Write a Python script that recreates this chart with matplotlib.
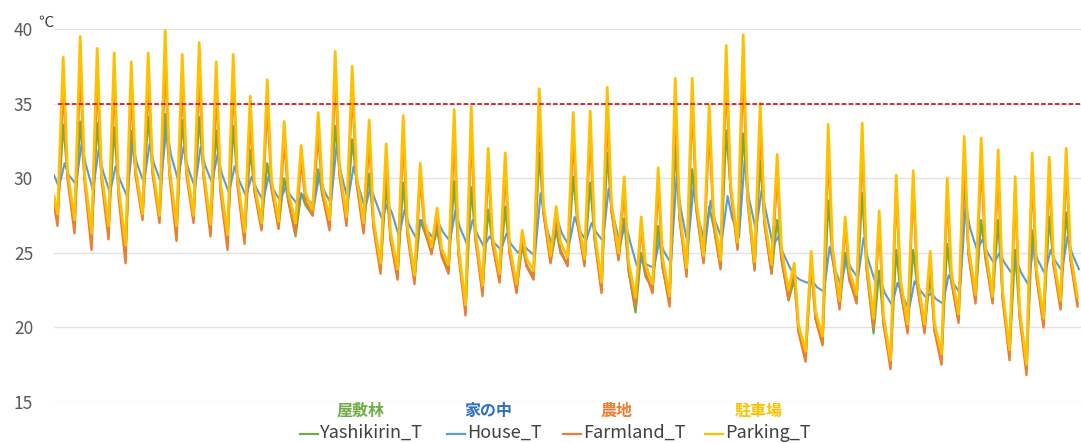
import matplotlib
matplotlib.use("Agg")
import matplotlib.pyplot as plt
from matplotlib.lines import Line2D

plt.rcParams['font.family'] = ['Noto Sans CJK JP', 'DejaVu Sans']

GREEN = '#70ad47'
BLUE = '#5b9bd5'
ORANGE = '#ed7d31'
GOLD = '#ffc000'

# reading hours within a day: morning low, afternoon high, evening
OUT_HOURS = (5, 13, 19)
IN_HOURS = (7, 15, 21)

names = ['Yashikirin_T', 'House_T', 'Farmland_T', 'Parking_T']
names_jp = ['屋敷林', '家の中', '農地', '駐車場']

# values at 0:00 of the first day
first_vals = [28.3, 30.2, 28.2, 28.8]

# --- Parking (駐車場) ---
parking_min = [27.6, 27.2, 26.3, 26.8, 25.5, 27.6, 27.5, 26.8, 27.5, 26.9,
               26.2, 26.4, 27.0, 27.1, 27.0, 27.9, 27.2, 27.4, 27.0, 24.3,
               23.9, 23.5, 25.4, 24.2, 21.5, 22.8, 23.6, 22.9, 23.8, 24.8,
               24.7, 24.6, 23.0, 25.0, 22.0, 22.9, 22.1, 24.0, 24.8, 24.5,
               25.7, 24.4, 24.2, 22.5, 18.4, 19.4, 21.8, 22.2, 20.6, 17.8,
               20.2, 20.2, 18.2, 20.9, 22.2, 22.1, 18.5, 17.5, 20.6, 21.8, 22.0]
parking_max = [38.1, 39.5, 38.7, 38.4, 37.8, 38.4, 39.9, 38.3, 39.1, 37.8,
               38.3, 35.5, 36.6, 33.8, 32.2, 34.4, 38.5, 37.5, 33.9, 32.3,
               34.2, 31.0, 28.0, 34.6, 34.8, 32.0, 31.7, 26.5, 36.0, 28.1,
               34.4, 34.5, 36.1, 30.1, 27.4, 30.7, 36.7, 36.7, 34.9, 38.9,
               39.6, 35.0, 31.6, 24.3, 25.1, 33.6, 27.4, 33.7, 27.8, 30.2,
               30.5, 25.1, 30.0, 32.8, 32.7, 31.9, 30.1, 31.7, 31.4, 32.0]
parking_eve = [30.5, 30.3, 30.4, 29.4, 30.7, 30.8, 30.7, 30.7, 30.6, 29.7,
               30.0, 29.6, 29.9, 29.0, 29.0, 29.4, 30.7, 30.2, 27.2, 26.4,
               26.7, 27.1, 25.3, 25.4, 26.4, 26.1, 25.5, 24.6, 28.2, 25.7,
               27.5, 26.5, 28.3, 24.4, 24.2, 24.7, 27.8, 28.4, 27.6, 29.7,
               29.0, 27.4, 25.2, 20.2, 21.1, 25.3, 23.8, 24.5, 20.8, 23.2,
               23.3, 20.3, 23.6, 25.4, 25.3, 22.5, 21.3, 23.9, 24.7, 25.0]

# --- Farmland (農地) ---
farm_min = [26.8, 26.3, 25.2, 25.9, 24.3, 27.2, 27.0, 25.8, 27.0, 26.1,
            25.2, 25.6, 26.5, 26.6, 26.3, 27.5, 26.5, 26.8, 26.3, 23.6,
            23.2, 22.9, 24.9, 23.6, 20.8, 22.1, 23.0, 22.3, 23.2, 24.3,
            24.1, 24.1, 22.3, 24.5, 21.4, 22.3, 21.4, 23.4, 24.3, 23.9,
            25.2, 23.9, 23.6, 21.9, 17.7, 18.8, 21.2, 21.6, 20.0, 17.2,
            19.6, 19.6, 17.5, 20.3, 21.6, 21.6, 17.8, 16.8, 20.0, 21.2, 21.4]
farm_max = [36.2, 37.4, 36.8, 36.5, 36.0, 36.5, 37.8, 36.4, 37.0, 36.0,
            36.6, 34.0, 35.0, 32.6, 31.2, 33.0, 36.8, 36.0, 32.6, 31.4,
            32.8, 30.0, 27.4, 33.0, 33.2, 30.8, 30.5, 26.0, 34.2, 27.5,
            32.8, 33.0, 34.3, 29.2, 26.8, 29.6, 34.9, 35.0, 33.4, 36.8,
            37.2, 33.5, 30.4, 24.0, 24.6, 32.0, 26.8, 32.2, 27.0, 29.2,
            29.4, 24.6, 29.0, 31.4, 31.2, 30.6, 29.2, 30.4, 30.2, 30.8]
farm_eve = [30.0, 29.8, 29.9, 28.8, 30.2, 30.3, 30.2, 30.2, 30.1, 29.1,
            29.5, 29.1, 29.4, 28.5, 28.5, 28.9, 30.2, 29.7, 26.7, 25.9,
            26.2, 26.6, 24.8, 24.9, 25.9, 25.6, 25.0, 24.1, 27.7, 25.2,
            27.0, 26.0, 27.8, 23.9, 23.7, 24.2, 27.3, 27.9, 27.1, 29.2,
            28.5, 26.9, 24.7, 19.7, 20.6, 24.8, 23.3, 24.0, 20.3, 22.7,
            22.8, 19.8, 23.1, 24.9, 24.8, 22.0, 20.8, 23.4, 24.2, 24.5]

# --- Yashikirin (屋敷林) ---
yashi_min = [27.3, 27.0, 26.0, 26.6, 25.3, 27.5, 27.3, 26.6, 27.4, 26.7,
             26.0, 26.1, 26.7, 26.7, 26.1, 27.5, 26.9, 27.1, 26.6, 23.9,
             23.4, 23.2, 25.1, 23.8, 21.2, 22.5, 23.2, 22.5, 23.4, 24.4,
             24.2, 24.3, 22.5, 24.6, 21.0, 22.6, 21.7, 23.6, 24.4, 24.0,
             25.3, 23.8, 23.6, 21.8, 18.1, 18.9, 21.3, 21.8, 19.6, 17.6,
             19.8, 19.9, 17.9, 20.5, 21.8, 21.8, 18.2, 17.2, 20.2, 21.4, 21.6]
yashi_max = [33.6, 33.8, 33.7, 33.4, 33.2, 34.1, 34.3, 33.9, 34.1, 33.2,
             33.5, 31.9, 31.0, 30.0, 29.0, 30.6, 33.5, 32.6, 30.3, 29.6,
             29.7, 27.2, 26.5, 29.8, 29.4, 27.9, 28.1, 25.5, 31.7, 26.5,
             30.1, 29.7, 31.7, 27.3, 25.0, 26.8, 32.2, 30.6, 28.1, 33.2,
             33.0, 31.2, 27.2, 23.2, 24.0, 28.5, 25.0, 29.0, 23.8, 25.2,
             25.2, 23.5, 25.6, 30.1, 27.2, 27.2, 25.2, 26.5, 27.4, 27.7]
yashi_eve = [30.3, 30.1, 30.2, 29.2, 30.5, 30.6, 30.5, 30.5, 30.4, 29.5,
             29.8, 29.2, 29.3, 28.4, 28.2, 28.8, 30.4, 29.8, 26.8, 26.0,
             26.3, 26.4, 24.9, 25.0, 25.9, 25.6, 25.1, 24.2, 27.7, 25.0,
             27.0, 26.0, 27.8, 23.8, 23.4, 24.0, 27.4, 27.8, 26.8, 29.4,
             28.8, 27.0, 24.5, 19.8, 20.6, 24.8, 23.1, 24.0, 20.2, 22.4,
             22.6, 19.8, 23.0, 25.0, 24.6, 22.1, 20.8, 23.4, 24.3, 24.6]

# --- House (家の中) ---
house_min = [29.4, 29.6, 29.2, 29.0, 28.8, 29.7, 29.7, 29.9, 29.4, 29.7,
             29.0, 28.8, 28.5, 28.5, 28.3, 28.2, 28.3, 28.5, 28.0, 27.3,
             26.1, 26.0, 26.0, 25.8, 25.6, 25.4, 25.2, 25.0, 24.8, 25.5,
             25.5, 25.8, 25.8, 25.6, 24.1, 24.0, 24.3, 25.5, 25.6, 25.9,
             26.0, 26.5, 25.5, 24.0, 23.0, 22.4, 22.8, 23.3, 23.1, 21.5,
             21.2, 22.0, 21.6, 22.3, 25.2, 24.3, 23.7, 22.9, 23.6, 23.8, 23.9]
house_max = [31.0, 32.3, 31.9, 30.8, 32.3, 32.3, 33.5, 32.1, 32.1, 31.6,
             30.8, 30.1, 30.1, 29.4, 28.9, 30.3, 32.2, 30.8, 29.4, 28.3,
             27.9, 27.2, 27.0, 27.9, 27.2, 26.1, 26.3, 25.5, 29.0, 27.2,
             27.4, 27.0, 29.3, 27.0, 24.5, 25.9, 30.1, 29.4, 28.5, 28.8,
             31.2, 29.2, 26.1, 23.4, 23.1, 25.4, 24.7, 26.0, 23.1, 23.0,
             23.1, 22.3, 23.5, 28.3, 25.9, 25.0, 24.5, 25.4, 25.2, 26.1]
house_eve = [30.2, 30.9, 30.5, 29.9, 31.0, 31.0, 31.6, 30.7, 30.9, 30.3,
             29.9, 29.4, 29.3, 28.9, 28.6, 29.2, 30.4, 29.6, 28.6, 27.7,
             26.9, 26.6, 26.4, 26.7, 26.3, 25.7, 25.6, 25.2, 27.1, 26.3,
             26.6, 26.4, 27.6, 25.8, 24.2, 25.1, 27.9, 27.5, 27.2, 27.4,
             28.7, 27.8, 25.0, 23.2, 22.7, 24.1, 24.0, 24.6, 22.3, 22.2,
             22.6, 21.9, 23.0, 26.7, 25.1, 24.4, 23.7, 24.5, 24.5, 25.0]


def day_series(first, lows, highs, eves, hours):
    # time in days, one low/high/evening reading per day
    xs, ys = [0.0], [first]
    for d in range(len(highs)):
        for h, v in zip(hours, (lows[d], highs[d], eves[d])):
            xs.append(d + h / 24)
            ys.append(v)
    xs.append(len(highs) + hours[0] / 24)
    ys.append(lows[-1])
    return xs, ys


series = [
    (day_series(first_vals[0], yashi_min, yashi_max, yashi_eve, OUT_HOURS), GREEN, 1.6),
    (day_series(first_vals[1], house_min, house_max, house_eve, IN_HOURS), BLUE, 1.5),
    (day_series(first_vals[2], farm_min, farm_max, farm_eve, OUT_HOURS), ORANGE, 1.7),
    (day_series(first_vals[3], parking_min, parking_max, parking_eve, OUT_HOURS), GOLD, 2.0),
]

W, H = 1081, 443
fig = plt.figure(figsize=(W / 100, H / 100), dpi=100)
ax = fig.add_axes([54 / W, 41 / H, 1 - 54 / W, 373 / H])

for (xs, ys), col, lw in series:
    ax.plot(xs, ys, color=col, lw=lw, solid_joinstyle='round')

ax.axhline(35, xmin=0.004, color='#c00000', lw=1.1, ls=(0, (3, 1.5)))

ax.set_xlim(0, 1027 / 17)
ax.set_ylim(15, 40)
ax.set_yticks([15, 20, 25, 30, 35, 40])
ax.set_xticks([])
ax.grid(axis='y', color='#e3e3e3', lw=1)
ax.set_axisbelow(True)
for s in ax.spines.values():
    s.set_visible(False)
ax.tick_params(axis='y', length=0, pad=15, labelsize=12.5, labelcolor='#595959')

fig.text(46 / W, 1 - 22 / H, '℃', ha='center', va='center', fontsize=11, color='#404040')

# legend: Japanese captions above the series keys
jp_cols = [GREEN, '#2e6fc0', ORANGE, GOLD]
jp_x = [361, 488, 616, 759]
for t, c, x in zip(names_jp, jp_cols, jp_x):
    fig.text(x / W, 1 - 411 / H, t, ha='center', va='center', fontsize=11.5,
             fontweight='bold', color=c)

key_x = [300, 447, 563, 705]
for name, (_, col, _), x in zip(names, series, key_x):
    fig.add_artist(Line2D([x / W, (x + 18) / W], [9 / H, 9 / H], color=col, lw=1.6,
                          transform=fig.transFigure))
    fig.text((x + 20) / W, 5 / H, name, ha='left', va='baseline', fontsize=13,
             color='#404040')

fig.savefig('out.png', dpi=100)
